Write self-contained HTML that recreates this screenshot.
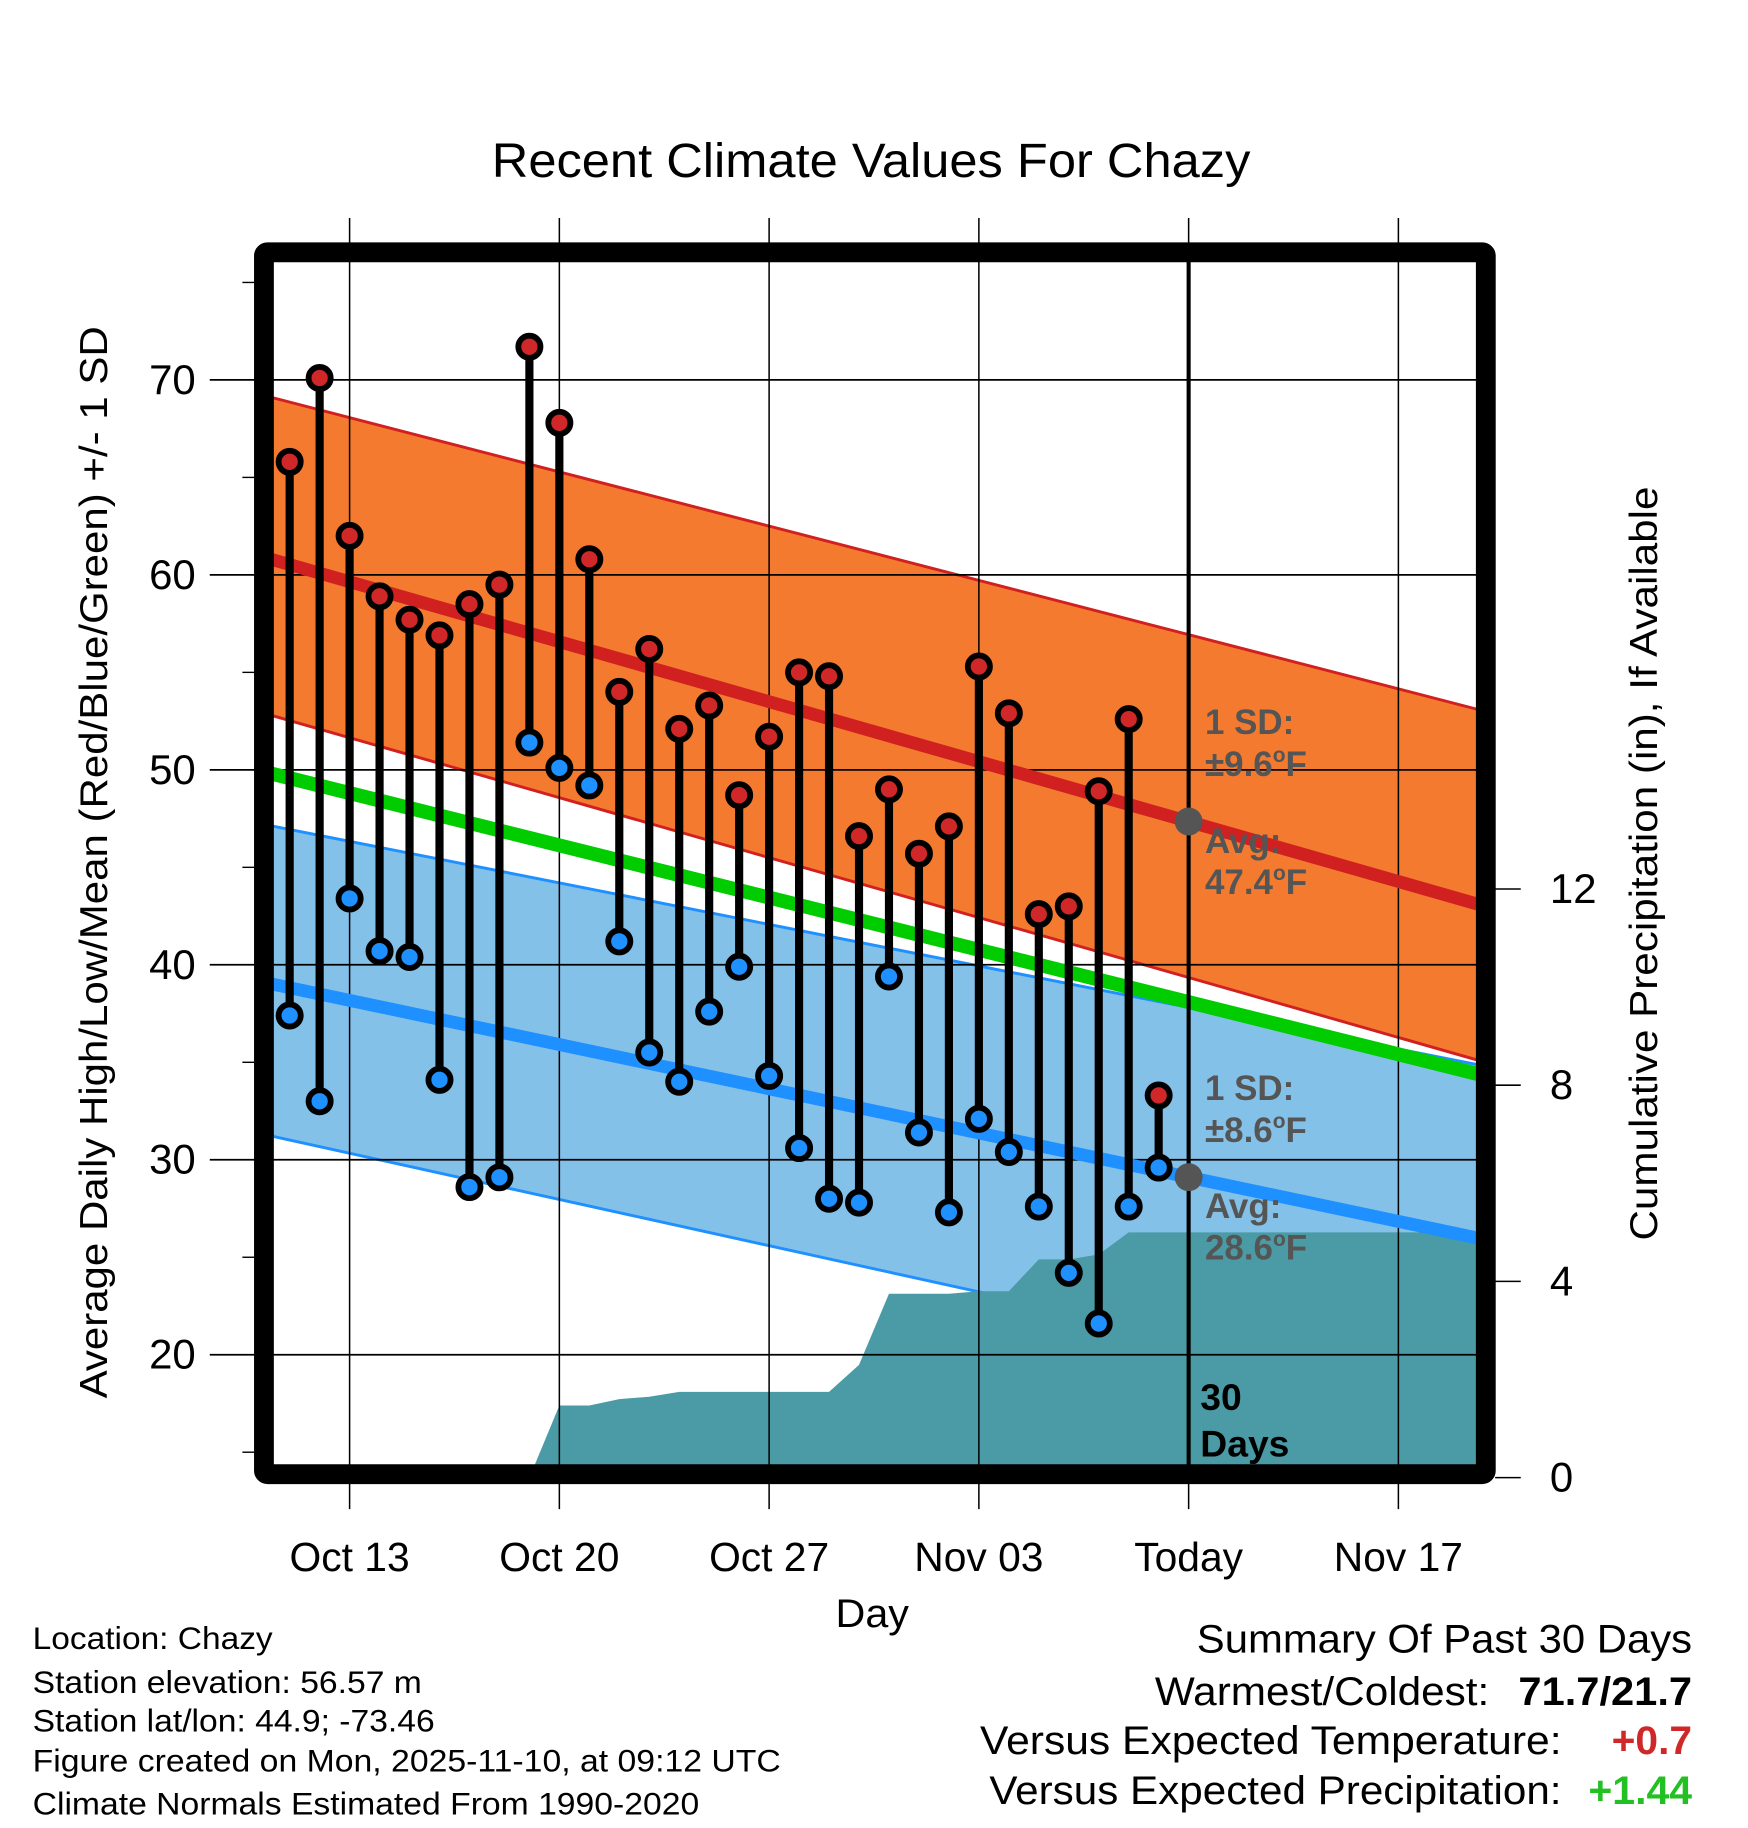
<!DOCTYPE html>
<html><head><meta charset="utf-8"><style>
html,body{margin:0;padding:0;background:#fff;}
svg{display:block;font-family:"Liberation Sans",sans-serif;}
</style></head><body>
<svg id="chart" width="1748" height="1828" viewBox="0 0 1500 1568.6" xmlns="http://www.w3.org/2000/svg">
<defs><clipPath id="plotclip"><rect x="226.5" y="216.5" width="1048.5" height="1048.5"/></clipPath></defs>
<rect width="1500" height="1568.6" fill="#fff"/>
<g clip-path="url(#plotclip)"><g id="bands"></g><g id="precip"></g></g><g id="grid"></g><g id="normals" clip-path="url(#plotclip)"></g><g id="stems"></g>
<text x="422" y="152" font-size="41" textLength="651" lengthAdjust="spacingAndGlyphs">Recent Climate Values For Chazy</text>
<text transform="translate(92,740) rotate(-90)" font-size="33" text-anchor="middle" textLength="920" lengthAdjust="spacingAndGlyphs">Average Daily High/Low/Mean (Red/Blue/Green) +/- 1 SD</text>
<text transform="translate(1422,741) rotate(-90)" font-size="33" text-anchor="middle" textLength="647" lengthAdjust="spacingAndGlyphs">Cumulative Precipitation (in), If Available</text>
<text x="717" y="1396" font-size="34" textLength="63" lengthAdjust="spacingAndGlyphs">Day</text>
<g id="axes"></g>
<g fill="#555" font-weight="bold" font-size="30">
<text x="1034" y="630">1 SD:</text><text x="1034" y="666">±9.6<tspan font-size="18" dy="-12">o</tspan><tspan dy="12">F</tspan></text>
<text x="1034" y="732">Avg:</text><text x="1034" y="767">47.4<tspan font-size="18" dy="-12">o</tspan><tspan dy="12">F</tspan></text>
</g>
<g fill="#555" font-weight="bold" font-size="30">
<text x="1034" y="944">1 SD:</text><text x="1034" y="980">±8.6<tspan font-size="18" dy="-12">o</tspan><tspan dy="12">F</tspan></text>
<text x="1034" y="1045">Avg:</text><text x="1034" y="1081">28.6<tspan font-size="18" dy="-12">o</tspan><tspan dy="12">F</tspan></text>
</g>
<g font-weight="bold" font-size="32">
<text x="1030" y="1210">30</text><text x="1030" y="1250">Days</text></g>
<g font-size="27">
<text x="28" y="1415" textLength="206" lengthAdjust="spacingAndGlyphs">Location: Chazy</text>
<text x="28" y="1453" textLength="334" lengthAdjust="spacingAndGlyphs">Station elevation: 56.57 m</text>
<text x="28" y="1486" textLength="345" lengthAdjust="spacingAndGlyphs">Station lat/lon: 44.9; -73.46</text>
<text x="28" y="1520" textLength="642" lengthAdjust="spacingAndGlyphs">Figure created on Mon, 2025-11-10, at 09:12 UTC</text>
<text x="28" y="1557" textLength="572" lengthAdjust="spacingAndGlyphs">Climate Normals Estimated From 1990-2020</text></g>
<g font-size="34">
<text x="1027" y="1418" textLength="425" lengthAdjust="spacingAndGlyphs">Summary Of Past 30 Days</text>
<text x="991" y="1463" textLength="287" lengthAdjust="spacingAndGlyphs">Warmest/Coldest:</text><text x="1303" y="1463" font-weight="bold" textLength="149" lengthAdjust="spacingAndGlyphs">71.7/21.7</text>
<text x="841" y="1505" textLength="499" lengthAdjust="spacingAndGlyphs">Versus Expected Temperature:</text><text x="1383" y="1505" font-weight="bold" fill="#d02828" textLength="69" lengthAdjust="spacingAndGlyphs">+0.7</text>
<text x="849" y="1548" textLength="491" lengthAdjust="spacingAndGlyphs">Versus Expected Precipitation:</text><text x="1363" y="1548" font-weight="bold" fill="#22c022" textLength="89" lengthAdjust="spacingAndGlyphs">+1.44</text></g>
</svg>
<script>
const highs=[65.8,70.1,62.0,58.9,57.7,56.9,58.5,59.5,71.7,67.8,60.8,54.0,56.2,52.1,53.3,48.7,51.7,55.0,54.8,46.6,49.0,45.7,47.1,55.3,52.9,42.6,43.0,48.9,52.6,33.3];
const lows=[37.4,33.0,43.4,40.7,40.4,34.1,28.6,29.1,51.4,50.1,49.2,41.2,35.5,34.0,37.6,39.9,34.3,30.6,28.0,27.8,39.4,31.4,27.3,32.1,30.4,27.6,24.2,21.6,27.6,29.6];
// day index 0 = Oct 11
const precipDays=[8,9,10,11,12,13,14,15,16,17,18,19,20,21,22,23,24,25,26,27,28,29];
const precipVals=[0,1.47,1.47,1.6,1.65,1.75,1.75,1.75,1.75,1.75,1.75,2.3,3.75,3.75,3.75,3.8,3.8,4.45,4.45,4.55,5.0,5.0];
const normDays=[-0.85,39.9];
const normHigh=[60.9,43.0];
const normLow=[39.1,25.9];
const normMean=[49.9,34.3];
const highUpper=[69.2,53.0];
const highLower=[52.9,35.0];
const lowUpper=[47.2,34.8];
const lowLower=[31.3,17.5];
const xTickDays=[2,9,16,23,30,37];
const xTickLabels=["Oct 13","Oct 20","Oct 27","Nov 03","Today","Nov 17"];
const yTicks=[20,30,40,50,60,70];
const y2Ticks=[0,4,8,12];

const X=d=>300+(d-2)*25.714;
const Y=t=>326+(70-t)*16.73;
const Y2=p=>1268-p*42.1;
const L=226.5,R=1275,T=216.5,B=1265;
const NS="http://www.w3.org/2000/svg";
function mk(tag,attrs,parent){const e=document.createElementNS(NS,tag);for(const k in attrs)e.setAttribute(k,attrs[k]);parent.appendChild(e);return e;}
const interp=(arr,d)=>arr[0]+(arr[1]-arr[0])*(d-normDays[0])/(normDays[1]-normDays[0]);
const x0=normDays[0],x1=normDays[1];
const bands=document.getElementById('bands');
function band(up,lo,fill,edge,name){
  const pts=[[x0,up[0]],[x1,up[1]],[x1,lo[1]],[x0,lo[0]]].map(p=>X(p[0])+','+Y(p[1])).join(' ');
  const p=mk('polygon',{points:pts,fill:fill},bands);
  
  
  [up,lo].forEach(a=>{mk('line',{x1:X(x0),y1:Y(a[0]),x2:X(x1),y2:Y(a[1]),stroke:edge,'stroke-width':2.5},bands);});
}
band(lowUpper,lowLower,'#84c1e8','#1e90ff','low-sd-band');
band(highUpper,highLower,'#f47a30','#d02020','high-sd-band');
// precip
const pg=document.getElementById('precip');
let pp=precipDays.map((d,i)=>X(d)+','+Y2(precipVals[i]));
pp.push(X(x1)+','+Y2(precipVals[precipVals.length-1]));pp.push(X(x1)+','+Y2(0));pp.push(X(precipDays[0])+','+Y2(0));
const pa=mk('polygon',{points:pp.join(' '),fill:'#4a9ba5'},pg);


// grid
const g=document.getElementById('grid');
yTicks.forEach(t=>{mk('line',{x1:180,y1:Y(t),x2:R,y2:Y(t),stroke:'#000','stroke-width':1.5},g);});
for(let t=15;t<=75;t+=5){if(t%10)mk('line',{x1:208,y1:Y(t),x2:218,y2:Y(t),stroke:'#000','stroke-width':1.2},g);}
xTickDays.forEach(d=>{mk('line',{x1:X(d),y1:187,x2:X(d),y2:B,stroke:'#000','stroke-width':1.3},g);mk('line',{x1:X(d),y1:1273,x2:X(d),y2:1295,stroke:'#000','stroke-width':1.3},g);});
// normals lines
const nl=document.getElementById('normals');
[[normMean,'#00cc00',12,'mean-normal-line'],[normLow,'#1e90ff',11,'low-normal-line'],[normHigh,'#d02020',11,'high-normal-line']].forEach(a=>{
  const l=mk('line',{x1:X(x0),y1:Y(interp(a[0],x0)),x2:X(x1),y2:Y(interp(a[0],x1)),stroke:a[1],'stroke-width':a[2]},nl);
  
  
});
mk('line',{x1:X(30),y1:T,x2:X(30),y2:B,stroke:'#000','stroke-width':3.5},nl);
[[normHigh,'today-high-avg'],[normLow,'today-low-avg']].forEach(a=>{
  const c=mk('circle',{cx:X(30),cy:Y(interp(a[0],30)),r:12,fill:'#555'},nl);
  
  
});
// stems
const sg=document.getElementById('stems');
highs.forEach((h,i)=>{
  const lo=lows[i];
  const s=mk('line',{x1:X(i),y1:Y(h),x2:X(i),y2:Y(lo),stroke:'#000','stroke-width':7},sg);
  
  
  const c1=mk('circle',{cx:X(i),cy:Y(h),r:9.5,fill:'#d02828',stroke:'#000','stroke-width':5},sg);
  
  
  const c2=mk('circle',{cx:X(i),cy:Y(lo),r:9.5,fill:'#1e90ff',stroke:'#000','stroke-width':5},sg);
  
  
});
// frame & axes
const ax=document.getElementById('axes');
const fr=mk('rect',{x:L,y:T,width:R-L,height:B-T,fill:'none',stroke:'#000','stroke-width':17,rx:3},ax);


yTicks.forEach(t=>{const e=mk('text',{x:168,y:Y(t)+12,'font-size':36,'text-anchor':'end'},ax);e.textContent=t;
  
  });
y2Ticks.forEach(p=>{mk('line',{x1:1283,y1:Y2(p),x2:1305,y2:Y2(p),stroke:'#000','stroke-width':1.3},ax);
  const e=mk('text',{x:1330,y:Y2(p)+12,'font-size':36},ax);e.textContent=p;
  
  });
xTickDays.forEach((d,i)=>{const e=mk('text',{x:X(d),y:1348,'font-size':35,'text-anchor':'middle'},ax);e.textContent=xTickLabels[i];
  
  });
</script>
</body></html>
